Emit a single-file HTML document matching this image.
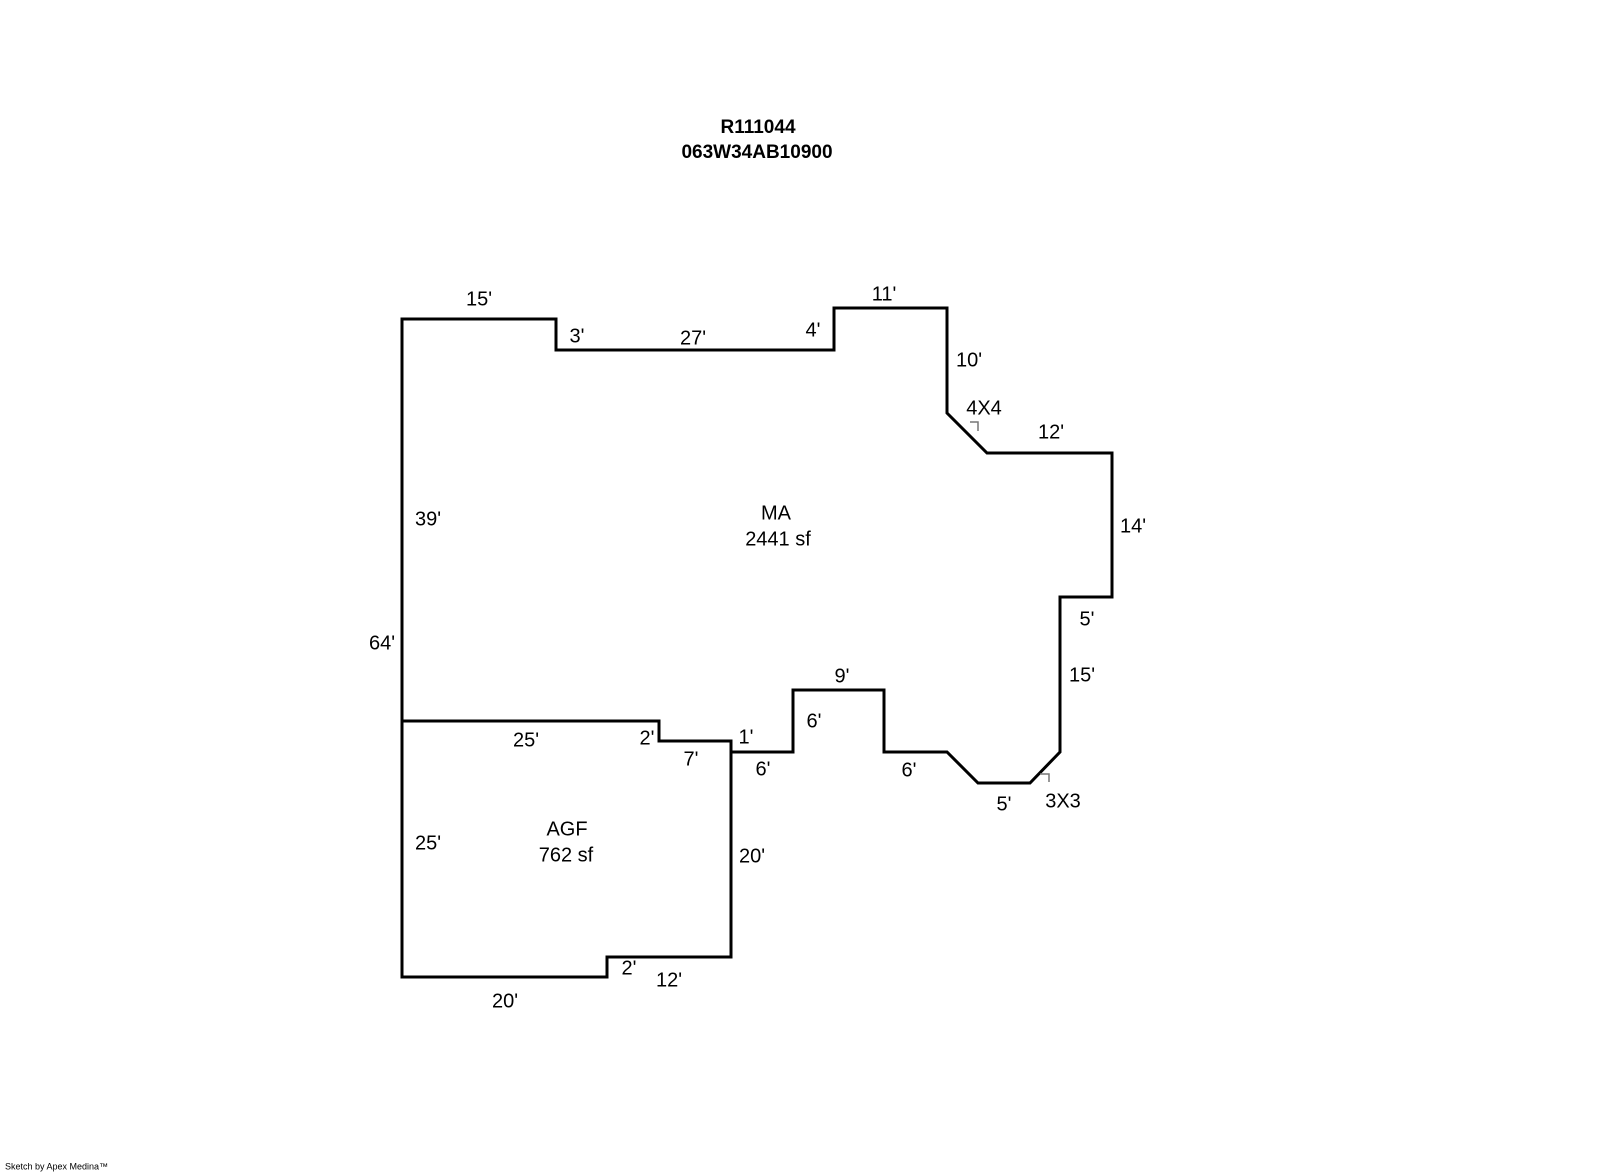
<!DOCTYPE html>
<html><head><meta charset="utf-8"><style>
html,body{margin:0;padding:0;background:#fff;}
svg{display:block;}
text{font-family:"Liberation Sans",Arial,sans-serif;font-size:20px;fill:#000;text-anchor:middle;dominant-baseline:middle;}
</style></head><body>
<svg width="1600" height="1174" viewBox="0 0 1600 1174">
<g fill="none" stroke="#000" stroke-width="3" stroke-linejoin="miter">
<polyline points="402,977 402,319 556,319 556,350 834,350 834,308 947,308 947,413 987,453 1112,453 1112,597 1060,597 1060,752 1030,783 978,783 947,752 884,752 884,690 793,690 793,752 731,752 731,741"/>
<polygon points="402,721 659,721 659,741 731,741 731,957 607,957 607,977 402,977"/>
</g>
<g fill="none" stroke="#777" stroke-width="1.5">
<polyline points="970,422 978,422 978,431"/>
<polyline points="1040,774 1049,774 1049,782"/>
</g>
<text x="758" y="128" style="font-weight:bold;font-size:19px">R111044</text>
<text x="757" y="153" style="font-weight:bold;font-size:19px">063W34AB10900</text>
<text x="479" y="300">15'</text>
<text x="577" y="337">3'</text>
<text x="693" y="339">27'</text>
<text x="813" y="331">4'</text>
<text x="884" y="295">11'</text>
<text x="969" y="361">10'</text>
<text x="984" y="409">4X4</text>
<text x="1051" y="433">12'</text>
<text x="1133" y="527">14'</text>
<text x="776" y="514">MA</text>
<text x="778" y="540">2441 sf</text>
<text x="428" y="520">39'</text>
<text x="382" y="644">64'</text>
<text x="1087" y="620">5'</text>
<text x="1082" y="676">15'</text>
<text x="842" y="677">9'</text>
<text x="814" y="722">6'</text>
<text x="746" y="738">1'</text>
<text x="763" y="770">6'</text>
<text x="909" y="771">6'</text>
<text x="1004" y="805">5'</text>
<text x="1063" y="802">3X3</text>
<text x="526" y="741">25'</text>
<text x="647" y="739">2'</text>
<text x="691" y="760">7'</text>
<text x="428" y="844">25'</text>
<text x="567" y="830">AGF</text>
<text x="566" y="856">762 sf</text>
<text x="752" y="857">20'</text>
<text x="629" y="969">2'</text>
<text x="669" y="981">12'</text>
<text x="505" y="1002">20'</text>
<text x="5" y="1167" style="font-size:9px;text-anchor:start">Sketch by Apex Medina™</text>
</svg>
</body></html>
